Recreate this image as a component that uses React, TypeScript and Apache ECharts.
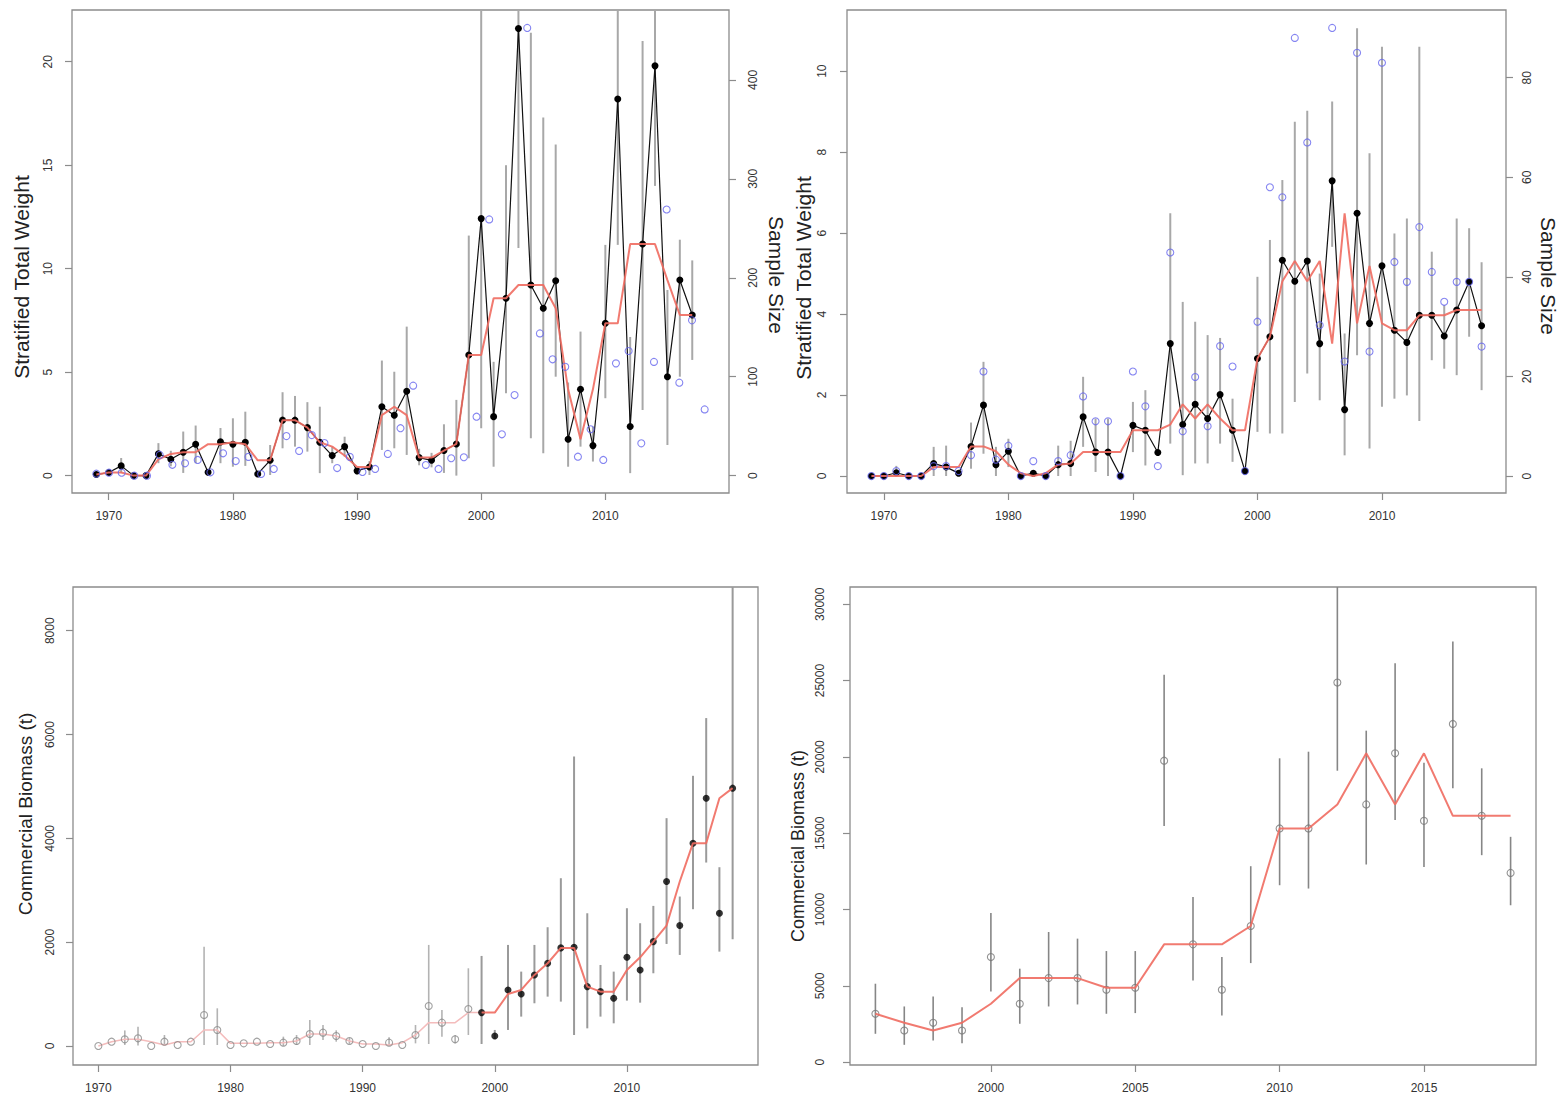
import React, { useEffect, useRef } from "react";
import * as echarts from "echarts";

// ---------------- Top-left panel (Stratified Total Weight + Sample Size) ----------------
const yearsTL = [1969,1970,1971,1972,1973,1974,1975,1976,1977,1978,1979,1980,1981,1982,1983,1984,1985,1986,1987,1988,1989,1990,1991,1992,1993,1994,1995,1996,1997,1998,1999,2000,2001,2002,2003,2004,2005,2006,2007,2008,2009,2010,2011,2012,2013,2014,2015,2016,2017];
const weightTL = [0.05,0.15,0.47,0,0,1.05,0.79,1.13,1.52,0.16,1.63,1.52,1.61,0.08,0.74,2.68,2.68,2.32,1.61,0.97,1.40,0.23,0.42,3.33,2.92,4.08,0.87,0.74,1.21,1.53,5.83,12.42,2.85,8.57,21.61,9.21,8.09,9.42,1.76,4.17,1.45,7.36,18.2,2.37,11.19,19.8,4.78,9.45,7.76];
const medianTL = [0.05,0.15,0.15,0,0,0.79,1.05,1.13,1.13,1.52,1.52,1.61,1.52,0.74,0.74,2.68,2.68,2.32,1.61,1.40,0.97,0.42,0.42,2.92,3.33,2.92,0.87,0.87,1.21,1.53,5.83,5.83,8.57,8.57,9.21,9.21,9.21,8.09,4.17,1.76,4.17,7.36,7.36,11.19,11.19,11.19,9.45,7.76,7.76];
const lowTL = [null,null,0.13,null,null,0.6,0.45,0.13,0.6,null,0.6,0.43,0.47,null,0.03,1.32,1.40,1.16,0.12,0.6,0.92,null,0.03,1.24,1.32,1.0,0.5,0.4,0.13,0,0.84,2.29,0.43,3.98,11.0,1.8,1.08,4.78,0.43,1.4,0.68,3.74,11.15,0.12,3.17,14.0,1.48,4.78,5.59];
const highTL = [null,null,0.85,null,null,1.57,1.2,2.13,2.42,null,2.3,2.77,3.09,null,1.48,4.03,3.85,3.55,3.33,1.4,1.88,null,0.7,5.56,5.02,7.2,1.3,1.1,2.48,3.66,11.6,26,5.5,15.0,26,21.4,17.3,16.0,4.5,6.96,2.37,11.15,26,6.7,21.0,26,8.97,11.4,10.4];
const sampleTL = [2,3,3,0,0,21,11,12.5,15.9,3.4,22.6,14.8,19,1.7,6.8,40,25,41,33,7.7,19,3.7,6.8,22,48,91,10.8,6.8,17.6,18.6,59.6,259,41.8,81.5,452.5,143.8,117.6,110,19.2,46.9,15.9,113.5,126,32.7,115,269,94,157,67];

// ---------------- Top-right panel ----------------
const yearsTR = [1969,1970,1971,1972,1973,1974,1975,1976,1977,1978,1979,1980,1981,1982,1983,1984,1985,1986,1987,1988,1989,1990,1991,1992,1993,1994,1995,1996,1997,1998,1999,2000,2001,2002,2003,2004,2005,2006,2007,2008,2009,2010,2011,2012,2013,2014,2015,2016,2017,2018];
const weightTR = [0,0,0.08,0,0,0.31,0.22,0.07,0.73,1.75,0.28,0.61,0,0.07,0,0.28,0.31,1.46,0.59,0.59,0,1.25,1.13,0.58,3.27,1.27,1.77,1.42,2.01,1.13,0.12,2.9,3.44,5.33,4.81,5.31,3.27,7.29,1.64,6.49,3.77,5.19,3.6,3.3,3.97,3.97,3.46,4.10,4.80,3.71];
const medianTR = [0,0,0,0,0,0.22,0.22,0.22,0.73,0.73,0.61,0.28,0.07,0,0.07,0.28,0.31,0.59,0.59,0.59,0.59,1.13,1.13,1.13,1.27,1.77,1.42,1.77,1.42,1.13,1.13,2.9,3.44,4.81,5.31,4.81,5.31,3.27,6.49,3.77,5.19,3.77,3.6,3.6,3.97,3.97,3.97,4.10,4.10,4.10];
const lowTR = [null,null,0,null,null,0,0,null,0.18,0.55,0,0.22,null,null,null,0,0,0.72,0.1,0,null,0.59,0.26,null,0.8,0.02,0.31,0.31,0.8,0.35,null,1.09,1.05,1.05,1.83,2.53,1.87,5.66,0.51,2.98,0.68,1.71,1.91,1.99,1.36,2.86,2.65,2.49,3.44,2.12];
const highTR = [null,null,0.25,null,null,0.72,0.75,null,1.32,2.82,0.72,0.92,null,null,null,0.75,0.87,2.45,1.42,1.42,null,1.83,2.12,null,6.49,4.3,3.81,3.48,3.41,1.91,null,4.92,5.83,7.31,8.75,9.02,5.0,9.25,3.52,11.06,7.97,10.6,5.99,6.36,10.6,5.54,4.22,6.36,6.12,5.28];
const sampleTR = [0,0,1,0,0,2,2,1,4.2,21,3.3,6.1,0,3,0,3,4.2,16,11,11,0,21,14,2,44.9,9,19.9,10,26.1,22,1,31,58,56,88,67,30.3,90,23,85,25,83,43,39,50,41,35,39,39,26];

// ---------------- Bottom-left panel (Commercial Biomass) ----------------
const yearsBL = [1970,1971,1972,1973,1974,1975,1976,1977,1978,1979,1980,1981,1982,1983,1984,1985,1986,1987,1988,1989,1990,1991,1992,1993,1994,1995,1996,1997,1998,1999,2000,2001,2002,2003,2004,2005,2006,2007,2008,2009,2010,2011,2012,2013,2014,2015,2016,2017,2018];
const biomassBL = [0,83,128,148,0,83,19,83,597,308,19,51,83,39,64,96,231,257,193,96,39,0,64,19,212,771,450,129,713,643,193,1080,1002,1369,1594,1890,1900,1144,1047,919,1709,1465,2011,3168,2320,3907,4774,2557,4967];
const medianBL = [0,83,128,128,83,19,83,83,308,308,51,51,51,64,64,96,231,231,193,96,39,39,19,64,212,450,450,450,643,643,643,1002,1080,1369,1594,1890,1890,1144,1047,1047,1465,1709,2011,2320,3168,3907,3907,4774,4967];
const lowBL = [null,null,20,10,null,19,null,null,19,19,null,null,null,null,0,20,19,116,83,40,null,null,0,null,51,39,180,51,212,39,135,309,566,823,951,855,212,340,566,437,874,835,1401,1966,1754,2635,3534,1818,2056];
const highBL = [null,null,300,372,null,212,null,null,1914,726,null,null,null,null,180,212,501,405,302,160,null,null,167,null,405,1947,694,212,1497,1735,309,1947,1433,1947,2288,3232,5578,2557,1561,1433,2654,2365,2699,4389,2879,5205,6317,3444,12000];
const firstSurveyYearBL = 1999;

// ---------------- Bottom-right panel ----------------
const yearsBR = [1996,1997,1998,1999,2000,2001,2002,2003,2004,2005,2006,2007,2008,2009,2010,2011,2012,2013,2014,2015,2016,2017,2018];
const biomassBR = [3176,2080,2585,2080,6890,3832,5512,5512,4751,4882,19752,7723,4751,8924,15315,15315,24870,16890,20237,15814,22160,16143,12402];
const medianBR = [3176,2585,2080,2585,3832,5512,5512,5512,4882,4882,7723,7723,7723,8924,15315,15315,16890,20237,16890,20237,16143,16143,16143];
const lowBR = [1864,1142,1424,1247,4639,2520,3655,3786,3176,3220,15467,5361,3064,6496,11595,11378,19096,12953,15860,12796,17940,13564,10283];
const highBR = [5144,3655,4311,3609,9777,6129,8531,8097,7284,7284,25375,10827,6890,12842,19909,20342,40000,21720,26143,19620,27560,19253,14765];

// tick labels
const yearTicks = [1970, 1980, 1990, 2000, 2010];
const yearTicksBR = [2000, 2005, 2010, 2015];
const weightTicksTL = [0, 5, 10, 15, 20];
const sampleTicksTL = [0, 100, 200, 300, 400];
const weightTicksTR = [0, 2, 4, 6, 8, 10];
const sampleTicksTR = [0, 20, 40, 60, 80];
const biomassTicksBL = [0, 2000, 4000, 6000, 8000];
const biomassTicksBR = [0, 5000, 10000, 15000, 20000, 25000, 30000];

const FONT = "'Liberation Sans', Arial, Helvetica, sans-serif";
const BOX = "#8c8c8c";
const RED = "#ef6b61";
const BLUE = "#6767ee";

function pairs(xs: number[], ys: (number | null)[]) {
  return xs.map((x, i) => [x, ys[i]]).filter((p) => p[1] != null);
}
function bars(xs: number[], lo: (number | null)[], hi: (number | null)[]) {
  return xs
    .map((x, i) => [x, lo[i], hi[i]])
    .filter((p) => p[1] != null && p[2] != null);
}

function errorSeries(data: any[], xAxisIndex: number, yAxisIndex: number, color: string, width: number, z = 1) {
  return {
    type: "custom",
    xAxisIndex,
    yAxisIndex,
    z,
    silent: true,
    encode: { x: 0, y: [1, 2] },
    data,
    renderItem: (params: any, api: any) => {
      const x = api.value(0);
      const p1 = api.coord([x, api.value(1)]);
      const p2 = api.coord([x, api.value(2)]);
      const cs = params.coordSys;
      const top = cs.y;
      const bottom = cs.y + cs.height;
      const c = (v: number) => Math.min(Math.max(v, top), bottom);
      return {
        type: "line",
        shape: { x1: p1[0], y1: c(p1[1]), x2: p2[0], y2: c(p2[1]) },
        style: { stroke: color, lineWidth: width },
      };
    },
  };
}

const plain = (v: number) => String(v);

function xAxis(gridIndex: number, min: number, max: number, ticks: number[], margin = 17) {
  return {
    type: "value",
    gridIndex,
    min,
    max,
    axisLine: { show: false, onZero: false },
    splitLine: { show: false },
    axisTick: { show: true, length: 7, lineStyle: { color: BOX, width: 1.2 }, customValues: ticks },
    axisLabel: { customValues: ticks, formatter: plain, margin, fontSize: 12, color: "#333", fontFamily: FONT },
  };
}

function yAxis(gridIndex: number, min: number, max: number, ticks: number[], position: string, margin: number) {
  return {
    type: "value",
    gridIndex,
    position,
    min,
    max,
    axisLine: { show: false, onZero: false },
    splitLine: { show: false },
    axisTick: { show: true, length: 7, lineStyle: { color: BOX, width: 1.2 }, customValues: ticks },
    axisLabel: { customValues: ticks, formatter: plain, rotate: 90, margin, fontSize: 12, color: "#333", fontFamily: FONT },
  };
}

function vText(text: string, x: number, y: number, rotation: number, fontSize: number) {
  return {
    type: "text",
    x,
    y,
    rotation,
    style: {
      text,
      fontSize,
      fontFamily: FONT,
      fill: "#222",
      align: "center",
      verticalAlign: "middle",
      textAlign: "center",
      textVerticalAlign: "middle",
    },
  };
}

function gridBox(left: number, top: number, width: number, height: number) {
  return { left, top, width, height, show: true, borderColor: BOX, borderWidth: 1.3, backgroundColor: "transparent" };
}

export default function App() {
  const ref = useRef<HTMLDivElement>(null);

  useEffect(() => {
    if (!ref.current) return;
    const chart = echarts.init(ref.current, undefined, { renderer: "svg" });

    const splitIdx = yearsBL.indexOf(firstSurveyYearBL);
    const earlyYearsBL = yearsBL.slice(0, splitIdx);
    const lateYearsBL = yearsBL.slice(splitIdx);

    const option: any = {
      animation: false,
      backgroundColor: "#ffffff",
      grid: [
        gridBox(72, 10, 657, 483),
        gridBox(847, 10, 659, 483),
        gridBox(73, 587, 685, 478),
        gridBox(850, 587, 686, 478),
      ],
      xAxis: [
        xAxis(0, 1967.04, 2019.96, yearTicks),
        { type: "value", gridIndex: 0, min: 1967.08, max: 2018.92, show: false },
        xAxis(1, 1967.04, 2019.96, yearTicks),
        xAxis(2, 1968.08, 2019.92, yearTicks, 17),
        xAxis(3, 1995.12, 2018.88, yearTicksBR, 17),
      ],
      yAxis: [
        yAxis(0, -0.84, 22.5, weightTicksTL, "left", 18),
        yAxis(0, -17.5, 470.6, sampleTicksTL, "right", 18),
        yAxis(1, -0.42, 11.51, weightTicksTR, "left", 19),
        yAxis(1, -3.4, 93.6, sampleTicksTR, "right", 15),
        yAxis(2, -366, 8842, biomassTicksBL, "left", 17.5),
        yAxis(3, -180, 31130, biomassTicksBR, "left", 24),
      ],
      graphic: [
        vText("Stratified Total Weight", 21, 277, Math.PI / 2, 21),
        vText("Sample Size", 776, 275, -Math.PI / 2, 21),
        vText("Stratified Total Weight", 803, 278, Math.PI / 2, 21),
        vText("Sample Size", 1548, 276, -Math.PI / 2, 21),
        vText("Commercial Biomass (t)", 25, 814, Math.PI / 2, 19),
        vText("Commercial Biomass (t)", 798, 846, Math.PI / 2, 18),
      ],
      series: [
        // ---- top-left
        errorSeries(bars(yearsTL, lowTL, highTL), 0, 0, "#a8a8a8", 2, 1),
        {
          type: "line", xAxisIndex: 0, yAxisIndex: 0, z: 2,
          data: pairs(yearsTL, weightTL),
          symbol: "circle", symbolSize: 7,
          itemStyle: { color: "#000" },
          lineStyle: { color: "#111", width: 1.2 },
        },
        {
          type: "line", xAxisIndex: 0, yAxisIndex: 0, z: 3,
          data: pairs(yearsTL, medianTL),
          symbol: "none",
          lineStyle: { color: RED, width: 2, opacity: 0.9 },
        },
        {
          type: "scatter", xAxisIndex: 1, yAxisIndex: 1, z: 4,
          data: pairs(yearsTL, sampleTL),
          symbol: "circle", symbolSize: 7,
          itemStyle: { color: "rgba(0,0,0,0)", borderColor: BLUE, borderWidth: 1.1 },
        },
        // ---- top-right
        errorSeries(bars(yearsTR, lowTR, highTR), 2, 2, "#a8a8a8", 2, 1),
        {
          type: "line", xAxisIndex: 2, yAxisIndex: 2, z: 2,
          data: pairs(yearsTR, weightTR),
          symbol: "circle", symbolSize: 7,
          itemStyle: { color: "#000" },
          lineStyle: { color: "#111", width: 1.2 },
        },
        {
          type: "line", xAxisIndex: 2, yAxisIndex: 2, z: 3,
          data: pairs(yearsTR, medianTR),
          symbol: "none",
          lineStyle: { color: RED, width: 2, opacity: 0.9 },
        },
        {
          type: "scatter", xAxisIndex: 2, yAxisIndex: 3, z: 4,
          data: pairs(yearsTR, sampleTR),
          symbol: "circle", symbolSize: 7,
          itemStyle: { color: "rgba(0,0,0,0)", borderColor: BLUE, borderWidth: 1.1 },
        },
        // ---- bottom-left
        errorSeries(bars(earlyYearsBL, lowBL.slice(0, splitIdx), highBL.slice(0, splitIdx)), 3, 4, "#b3b3b3", 1.6, 1),
        errorSeries(bars(lateYearsBL, lowBL.slice(splitIdx), highBL.slice(splitIdx)), 3, 4, "#9a9a9a", 2, 1),
        {
          type: "line", xAxisIndex: 3, yAxisIndex: 4, z: 2,
          data: pairs(yearsBL.slice(0, splitIdx + 1), medianBL.slice(0, splitIdx + 1)),
          symbol: "none",
          lineStyle: { color: "#f4bcbc", width: 1.5 },
        },
        {
          type: "scatter", xAxisIndex: 3, yAxisIndex: 4, z: 3,
          data: pairs(earlyYearsBL, biomassBL.slice(0, splitIdx)),
          symbol: "circle", symbolSize: 7,
          itemStyle: { color: "rgba(0,0,0,0)", borderColor: "#8a8a8a", borderWidth: 1.1 },
        },
        {
          type: "scatter", xAxisIndex: 3, yAxisIndex: 4, z: 3,
          data: pairs(lateYearsBL, biomassBL.slice(splitIdx)),
          symbol: "circle", symbolSize: 7,
          itemStyle: { color: "#000" },
        },
        {
          type: "line", xAxisIndex: 3, yAxisIndex: 4, z: 4,
          data: pairs(lateYearsBL, medianBL.slice(splitIdx)),
          symbol: "none",
          lineStyle: { color: RED, width: 2, opacity: 0.9 },
        },
        // ---- bottom-right
        errorSeries(bars(yearsBR, lowBR, highBR), 4, 5, "#868686", 1.6, 1),
        {
          type: "scatter", xAxisIndex: 4, yAxisIndex: 5, z: 2,
          data: pairs(yearsBR, biomassBR),
          symbol: "circle", symbolSize: 7,
          itemStyle: { color: "rgba(0,0,0,0)", borderColor: "#777", borderWidth: 1.1 },
        },
        {
          type: "line", xAxisIndex: 4, yAxisIndex: 5, z: 3,
          data: pairs(yearsBR, medianBR),
          symbol: "none",
          lineStyle: { color: RED, width: 2, opacity: 0.9 },
        },
      ],
    };

    chart.setOption(option);
    return () => chart.dispose();
  }, []);

  return (
    <div
      ref={ref}
      style={{ position: "fixed", left: 0, top: 0, width: 1564, height: 1110, background: "#fff" }}
    />
  );
}
